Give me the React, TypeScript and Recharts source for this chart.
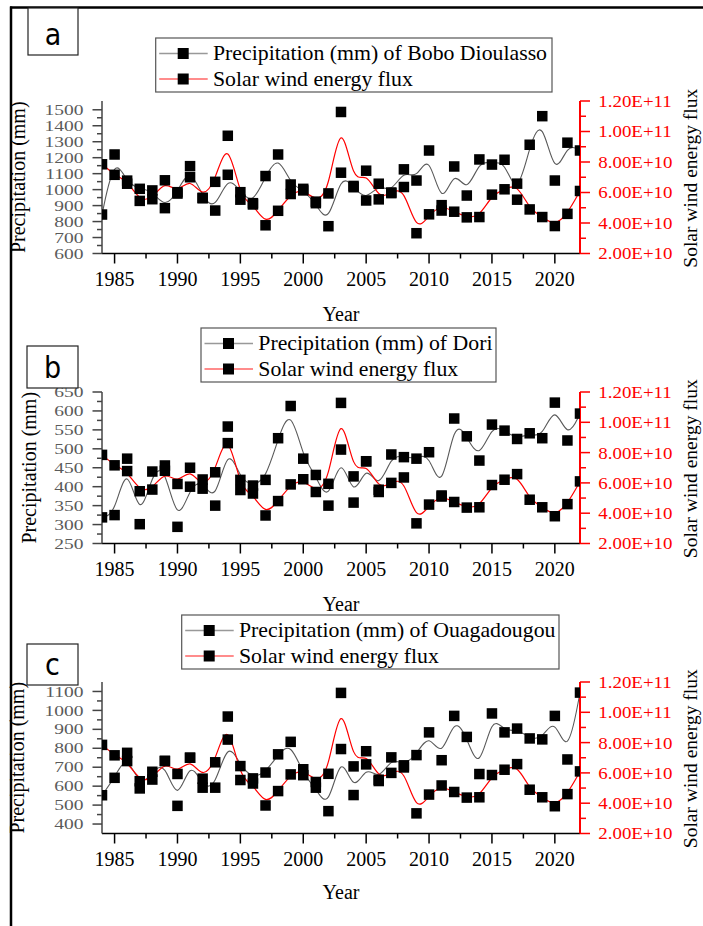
import React from 'react';
import { ComposedChart, Line, XAxis, YAxis } from 'recharts';

const years = [1984,1985,1986,1987,1988,1989,1990,1991,1992,1993,1994,1995,1996,1997,1998,1999,2000,2001,2002,2003,2004,2005,2006,2007,2008,2009,2010,2011,2012,2013,2014,2015,2016,2017,2018,2019,2020,2021,2022];

const solarFlux = [7.85e10,7.16e10,6.78e10,5.45e10,5.56e10,6.80e10,5.93e10,7.00e10,5.62e10,6.70e10,9.72e10,5.53e10,5.30e10,3.85e10,4.80e10,5.90e10,6.24e10,5.40e10,5.94e10,11.28e10,6.43e10,7.43e10,5.55e10,6.00e10,6.36e10,3.33e10,4.57e10,5.17e10,4.74e10,4.37e10,4.39e10,5.86e10,6.21e10,6.58e10,4.89e10,4.39e10,3.80e10,4.60e10,6.10e10];

const precipBobo = [844,1220,1037,1005,995,884,984,1147,949,869,1093,984,907,1085,1220,1032,995,915,771,1106,1015,932,1037,978,1127,1057,1245,869,1145,963,1189,1157,1187,937,1281,1460,1057,1294,1245];
const precipDori = [319,325,474,301,440,456,294,400,419,350,515,418,403,418,528,613,474,431,350,498,358,467,386,485,478,474,491,374,580,533,469,564,548,526,541,528,622,522,593];
const precipOuaga = [552,644,776,588,676,732,496,750,592,592,846,706,641,672,768,834,658,592,468,796,553,715,627,752,710,764,884,737,971,860,664,984,884,904,852,847,971,741,1094];

const xMajorTicks = [1985,1990,1995,2000,2005,2010,2015,2020];
const xMinorTicks = [1987.5,1992.5,1997.5,2002.5,2007.5,2012.5,2017.5];
const rightMajorTicks = [2e10,4e10,6e10,8e10,1e11,1.2e11];
const rightMinorTicks = [3e10,5e10,7e10,9e10,1.1e11];

const boboMajor = [600,700,800,900,1000,1100,1200,1300,1400,1500];
const boboMinor = [650,750,850,950,1050,1150,1250,1350,1450];
const doriMajor = [250,300,350,400,450,500,550,600,650];
const doriMinor = [275,325,375,425,475,525,575,625];
const ouagaMajor = [400,500,600,700,800,900,1000,1100];
const ouagaMinor = [450,550,650,750,850,950,1050];

const FONT = '"Liberation Serif", "Times New Roman", serif';
const LETTER_FONT = '"Liberation Sans Narrow", "DejaVu Sans Condensed", "Liberation Sans", sans-serif';

const panels = [
  { letter: 'a', station: 'Bobo Dioulasso', precip: precipBobo, domain: [600, 1555], majors: boboMajor, minors: boboMinor, plotTop: 101, plotH: 152.5, titleX: 18, yearY: 321, box: { x: 28, y: 8, w: 50, h: 47 }, legend: { x: 155.7, y: 38, w: 396.3 } },
  { letter: 'b', station: 'Dori', precip: precipDori, domain: [250, 650], majors: doriMajor, minors: doriMinor, plotTop: 392, plotH: 151.5, titleX: 29, yearY: 611, box: { x: 27, y: 346, w: 51, h: 42 }, legend: { x: 201, y: 328, w: 295 } },
  { letter: 'c', station: 'Ouagadougou', precip: precipOuaga, domain: [350, 1150], majors: ouagaMajor, minors: ouagaMinor, plotTop: 682, plotH: 151.5, titleX: 17, yearY: 899, box: { x: 27, y: 644, w: 51, h: 41 }, legend: { x: 181.7, y: 615, w: 377.3 } },
];

const PLOT_LEFT = 102;
const PLOT_RIGHT = 580;

const squareDot = (props: any) => {
  const { cx, cy, index } = props;
  if (cx == null || cy == null || isNaN(cx) || isNaN(cy)) return <g key={`e-${index}`} />;
  return <rect key={`sq-${index}`} x={cx - 5.25} y={cy - 5.25} width={10.5} height={10.5} fill="#000" />;
};

const BottomTick = (props: any) => {
  const { x, y, payload } = props;
  const v = payload.value;
  const major = xMajorTicks.includes(v);
  return (
    <g>
      <line x1={x} x2={x} y1={y} y2={y + (major ? 10 : 5)} stroke="#000" strokeWidth={1.5} />
      {major && (
        <text x={x} y={y + 32} textAnchor="middle" fontFamily={FONT} fontSize={20} fill="#000">{v}</text>
      )}
    </g>
  );
};

const TopTick = (props: any) => {
  const { x, y, payload } = props;
  const major = xMajorTicks.includes(payload.value);
  return <line x1={x} x2={x} y1={y} y2={y + (major ? 10 : 5)} stroke="#000" strokeWidth={1.5} />;
};

const LeftTick = (props: any) => {
  const { x, y, payload, majors } = props;
  const v = payload.value;
  const major = majors.includes(v);
  return (
    <g>
      <line x1={x} x2={x - (major ? 9.5 : 5)} y1={y} y2={y} stroke="#444" strokeWidth={1.5} />
      {major && (
        <text transform={`translate(${x - 18.5},${y}) scale(1.3,1)`} textAnchor="end" dy="0.34em" fontFamily={FONT} fontSize={15} fill="#5a5a5a">{v}</text>
      )}
    </g>
  );
};

const fmtSci = (v: number) => v.toExponential(2).toUpperCase();

const RightTick = (props: any) => {
  const { x, y, payload } = props;
  const v = payload.value;
  const major = rightMajorTicks.includes(v);
  return (
    <g>
      <line x1={x} x2={x + (major ? 10 : 6)} y1={y} y2={y} stroke="#ff0000" strokeWidth={1.5} />
      {major && (
        <text transform={`translate(${x + 18.3},${y}) scale(1.08,1)`} textAnchor="start" dy="0.34em" fontFamily={FONT} fontSize={17.5} fill="#ff0000">{fmtSci(v)}</text>
      )}
    </g>
  );
};

const Panel = ({ p }: { p: any }) => {
  const data = years.map((yr, i) => ({ year: yr, precip: p.precip[i], solar: solarFlux[i] }));
  const mTop = 40;
  const xH = 40;
  const h = mTop + p.plotH + xH + 8;
  const xTicks = [...xMajorTicks, ...xMinorTicks].sort((a, b) => a - b);
  const lTicks = [...p.majors, ...p.minors].sort((a: number, b: number) => a - b);
  const rTicks = [...rightMajorTicks, ...rightMinorTicks].sort((a, b) => a - b);
  return (
    <div style={{ position: 'absolute', left: 0, top: p.plotTop - mTop, width: 703, height: h }}>
      <ComposedChart width={703} height={h} data={data} margin={{ top: mTop, right: 8, bottom: 8, left: 8 }}>
        <XAxis xAxisId="bottom" dataKey="year" type="number" domain={[1984, 2022]} allowDataOverflow ticks={xTicks} interval={0} tickSize={0} tickMargin={0} height={xH} axisLine={{ stroke: '#000', strokeWidth: 1.5 }} tickLine={false} tick={(tp: any) => <BottomTick {...tp} />} />
        <XAxis xAxisId="top" orientation="top" dataKey="year" type="number" domain={[1984, 2022]} allowDataOverflow ticks={xTicks} interval={0} tickSize={0} tickMargin={0} height={0} axisLine={{ stroke: '#000', strokeWidth: 1.5 }} tickLine={false} tick={(tp: any) => <TopTick {...tp} />} />
        <YAxis yAxisId="left" type="number" domain={p.domain} allowDataOverflow ticks={lTicks} interval={0} tickSize={0} tickMargin={0} width={94} axisLine={{ stroke: '#444', strokeWidth: 1.5 }} tickLine={false} tick={(tp: any) => <LeftTick {...tp} majors={p.majors} />} />
        <YAxis yAxisId="right" orientation="right" type="number" domain={[2e10, 1.2e11]} allowDataOverflow ticks={rTicks} interval={0} tickSize={0} tickMargin={0} width={115} axisLine={{ stroke: '#ff0000', strokeWidth: 2 }} tickLine={false} tick={(tp: any) => <RightTick {...tp} />} />
        <Line xAxisId="bottom" yAxisId="left" type="basis" dataKey="precip" stroke="#595959" strokeWidth={1.1} dot={false} activeDot={false} isAnimationActive={false} />
        <Line xAxisId="bottom" yAxisId="right" type="basis" dataKey="solar" stroke="#ff0000" strokeWidth={1.2} dot={false} activeDot={false} isAnimationActive={false} />
        <Line xAxisId="bottom" yAxisId="left" type="linear" dataKey="precip" stroke="none" dot={squareDot} activeDot={false} isAnimationActive={false} />
        <Line xAxisId="bottom" yAxisId="right" type="linear" dataKey="solar" stroke="none" dot={squareDot} activeDot={false} isAnimationActive={false} />
      </ComposedChart>
    </div>
  );
};

const LegendBox = ({ lg, station }: { lg: any; station: string }) => {
  const rows = [
    { text: `Precipitation (mm) of ${station}`, color: '#999999', cy: lg.y + 15.5 },
    { text: 'Solar wind energy flux', color: '#ff6666', cy: lg.y + 41 },
  ];
  return (
    <g>
      <rect x={lg.x} y={lg.y} width={lg.w} height={54} fill="#fff" stroke="#555" strokeWidth={1.2} />
      {rows.map((r, i) => (
        <g key={i}>
          <line x1={lg.x + 3.5} x2={lg.x + 52} y1={r.cy} y2={r.cy} stroke={r.color} strokeWidth={1.6} />
          <rect x={lg.x + 22} y={r.cy - 5.5} width={11} height={11} fill="#000" />
          <text transform={`translate(${lg.x + 57.3},${r.cy}) scale(1.09,1)`} dy="0.33em" fontFamily={FONT} fontSize={20} fill="#000">{r.text}</text>
        </g>
      ))}
    </g>
  );
};

const Overlay = () => (
  <svg width={703} height={926} style={{ position: 'absolute', left: 0, top: 0, pointerEvents: 'none' }}>
    <line x1={10} x2={703} y1={7.5} y2={7.5} stroke="#000" strokeWidth={2.5} />
    <line x1={11} x2={11} y1={6.5} y2={926} stroke="#000" strokeWidth={2.5} />
    {panels.map((p) => {
      const cy = p.plotTop + p.plotH / 2;
      const cx = (PLOT_LEFT + PLOT_RIGHT) / 2;
      return (
        <g key={p.letter}>
          <rect x={p.box.x} y={p.box.y} width={p.box.w} height={p.box.h} fill="#fff" stroke="#222" strokeWidth={1.2} />
          <text x={p.box.x + p.box.w / 2} y={p.box.y + p.box.h - 10} textAnchor="middle" fontFamily={LETTER_FONT} fontSize={30} fill="#000">{p.letter}</text>
          <LegendBox lg={p.legend} station={p.station} />
          <text transform={`translate(${p.titleX},${cy}) rotate(-90)`} textAnchor="middle" dy="0.35em" fontFamily={FONT} fontSize={20} fill="#000">Precipitation (mm)</text>
          <text transform={`translate(697,${cy + 1}) rotate(-90)`} textAnchor="middle" fontFamily={FONT} fontSize={19.5} fill="#000">Solar wind energy flux</text>
          <text x={cx} y={p.yearY} textAnchor="middle" fontFamily={FONT} fontSize={20} fill="#000">Year</text>
        </g>
      );
    })}
  </svg>
);

export default function App() {
  return (
    <div style={{ position: 'absolute', left: 0, top: 0, width: 703, height: 926, background: '#fff', overflow: 'hidden' }}>
      {panels.map((p) => (
        <Panel key={p.letter} p={p} />
      ))}
      <Overlay />
    </div>
  );
}
